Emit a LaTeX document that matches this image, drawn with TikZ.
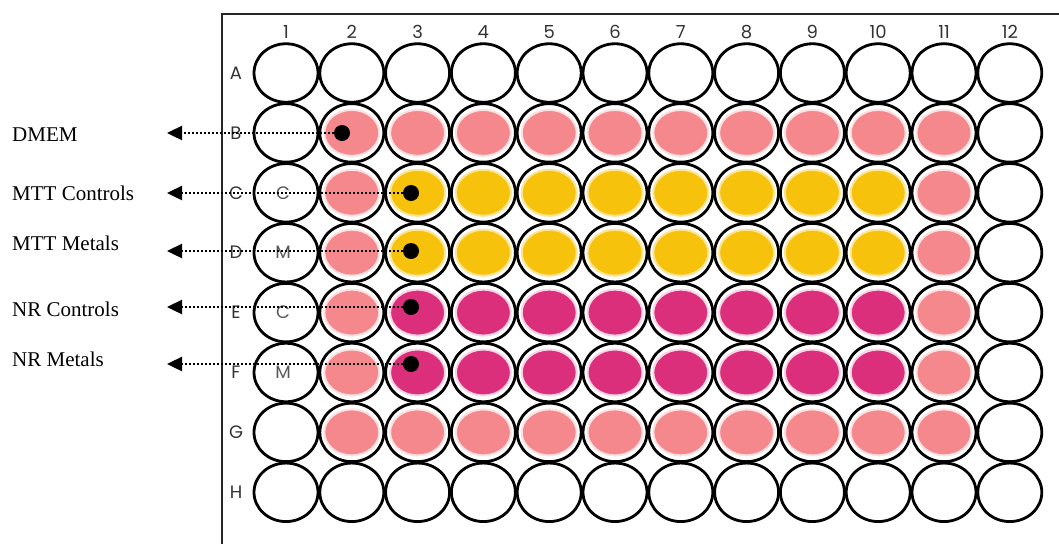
\documentclass[tikz,border=0pt]{standalone}
\usepackage{fontspec}
\setmainfont{Liberation Serif}
\newfontfamily\platefont{Poppins}
\usepackage{tikz}
\usetikzlibrary{arrows.meta,positioning,shapes.geometric}
\usepackage{xcolor}
\definecolor{dmem}{HTML}{F4888C}
\definecolor{mtt}{HTML}{F7C20C}
\definecolor{nr}{HTML}{DB2F7C}

\begin{document}
\begin{tikzpicture}[
    x=1pt,y=-1pt,
    plate/.style={line width=2.6pt,color=black!85},
    well/.style={draw,ellipse,line width=2.8pt,fill=white,minimum width=64pt,minimum height=58.5pt,inner sep=0pt},
    sample/.style={ellipse,line width=2pt,minimum width=55pt,minimum height=46pt,inner sep=0pt},
    collab/.style={font=\platefont\fontsize{18}{20}\selectfont,text=black!80,inner sep=0pt},
    inlab/.style={font=\platefont\fontsize{18}{20}\selectfont,text=black!65,inner sep=0pt},
    dot/.style={circle,fill=black,minimum size=16pt,inner sep=0pt},
    lead/.style={-{Triangle[length=15pt,width=14pt]},line width=2.4pt,dash pattern=on 2.2pt off 1.8pt},
    tag/.style={anchor=west,font=\fontsize{21}{24}\selectfont,inner sep=0pt},
]
\useasboundingbox (0,0) rectangle (1059,544);
% plate frame
\draw[plate] (1059,14) -- (222,14) -- (222,544);
% wells
\foreach \rl [count=\i] in {A,B,C,D,E,F,G,H}{
    \node[collab] (r-\rl) at (236,{73+(\i-1)*59.9}) {\rl};
    \foreach \c in {1,...,12}
        \node[well] (w-\rl-\c) at ({286+(\c-1)*65.8},{73+(\i-1)*59.9}) {};
}
\foreach \c in {1,...,12}
    \node[collab] (n-\c) at ({286+(\c-1)*65.8},32) {\c};
% filled wells
\foreach \rl in {B,G}
    \foreach \c in {2,...,11}
        \node[sample,fill=dmem,draw=dmem!25] (f-\rl-\c) at (w-\rl-\c) {};
\foreach \rl in {C,D,E,F}
    \foreach \c in {2,11}
        \node[sample,fill=dmem,draw=dmem!25] (f-\rl-\c) at (w-\rl-\c) {};
\foreach \rl in {C,D}
    \foreach \c in {3,...,10}
        \node[sample,fill=mtt,draw=mtt!45] (f-\rl-\c) at (w-\rl-\c) {};
\foreach \rl in {E,F}
    \foreach \c in {3,...,10}
        \node[sample,fill=nr,draw=nr!20] (f-\rl-\c) at (w-\rl-\c) {};
% controls / metals marks
\node[inlab] (i-C) at ([xshift=-3pt]w-C-1) {C};
\node[inlab] (i-D) at ([xshift=-3pt]w-D-1) {M};
\node[inlab] (i-E) at ([xshift=-3pt]w-E-1) {C};
\node[inlab] (i-F) at ([xshift=-3pt]w-F-1) {M};
% pointers
\node[dot] (d-B) at (342,133) {};
\node[dot] (d-C) at (411,193) {};
\node[dot] (d-D) at (411,251) {};
\node[dot] (d-E) at (411,307) {};
\node[dot] (d-F) at (411,364) {};
\coordinate (t-B) at (167,133);
\coordinate (t-C) at (167,193);
\coordinate (t-D) at (167,251);
\coordinate (t-E) at (167,307);
\coordinate (t-F) at (167,364);
\draw[lead] (d-B) -- (t-B);
\draw[lead] (d-C) -- (t-C);
\draw[lead] (d-D) -- (t-D);
\draw[lead] (d-E) -- (t-E);
\draw[lead] (d-F) -- (t-F);
% labels
\node[tag] (l-B) at (12,135) {DMEM};
\node[tag] (l-C) at (12,193) {MTT Controls};
\node[tag] (l-D) at (12,243) {MTT Metals};
\node[tag] (l-E) at (12,309) {NR Controls};
\node[tag] (l-F) at (12,359) {NR Metals};
\end{tikzpicture}
\end{document}
